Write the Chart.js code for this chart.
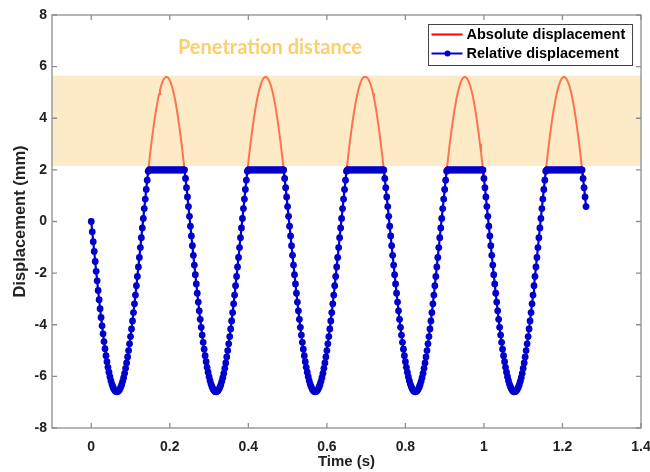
<!DOCTYPE html>
<html><head><meta charset="utf-8">
<script src="https://cdn.jsdelivr.net/npm/chart.js@4.4.0/dist/chart.umd.min.js"></script>
<style>html,body{margin:0;padding:0;background:#fff}#wrap{width:650px;height:472px}</style>
</head><body><div id="wrap"><canvas id="c" width="650" height="472"></canvas></div>
<script>
const _ = null;
const timeStep = 0.0025; // s between samples
const seriesNames = ['Absolute displacement', 'Relative displacement'];
const xRange = [-0.1, 1.4];
const yRange = [-8, 8];
const xTicks = [0, 0.2, 0.4, 0.6, 0.8, 1, 1.2, 1.4];
const xTickLabels = ['0', '0.2', '0.4', '0.6', '0.8', '1', '1.2', '1.4'];
const yTicks = [-8, -6, -4, -2, 0, 2, 4, 6, 8];
const yTickLabels = ['-8', '-6', '-4', '-2', '0', '2', '4', '6', '8'];
const penetrationBand = [2.15, 5.65];
const bandLabel = 'Penetration distance';
const bandLabelAt = [0.455, 6.72];
const xTitle = 'Time (s)';
const yTitle = 'Displacement (mm)';

const relDisp = [
// cycle 1
0.00,-0.40,-0.78,-1.16,-1.55,-1.93,-2.30,-2.67,-3.03,-3.38,-3.72,-4.04,-4.35,-4.65,-4.93,-5.20,-5.43,-5.65,-5.84,-6.01,-6.17,-6.30,-6.40,-6.49,-6.55,-6.59,-6.60,
-6.59,-6.56,-6.50,-6.42,-6.32,-6.19,-6.05,-5.88,-5.69,-5.48,-5.25,-5.00,-4.74,-4.46,-4.16,-3.85,-3.53,-3.19,-2.85,-2.49,-2.13,-1.76,-1.39,-1.01,-0.63,-0.25,0.12,0.50,0.87,1.24,1.60,1.95,
2,2,2,2,2,2,2,2,2,2, 2,2,2,2,2,2,2,2,2,2, 2,2,2,2,2,2,2,2,2,2, 2,2,2,2,2,2,2,
1.67,1.31,0.95,0.58,0.20,
// cycle 2
-0.18,-0.56,-0.94,-1.31,-1.69,-2.06,-2.42,-2.78,-3.12,-3.46,-3.79,-4.10,-4.40,-4.68,-4.95,-5.20,-5.43,-5.65,-5.84,-6.01,-6.17,-6.30,-6.40,-6.49,-6.55,-6.59,-6.60,
-6.59,-6.56,-6.50,-6.42,-6.32,-6.19,-6.05,-5.88,-5.69,-5.48,-5.25,-5.00,-4.74,-4.46,-4.16,-3.85,-3.53,-3.19,-2.85,-2.49,-2.13,-1.76,-1.39,-1.01,-0.63,-0.25,0.12,0.50,0.87,1.24,1.60,1.95,
2,2,2,2,2,2,2,2,2,2, 2,2,2,2,2,2,2,2,2,2, 2,2,2,2,2,2,2,2,2,2, 2,2,2,2,2,2,2,
1.67,1.31,0.95,0.58,0.20,
// cycle 3
-0.18,-0.56,-0.94,-1.31,-1.69,-2.06,-2.42,-2.78,-3.12,-3.46,-3.79,-4.10,-4.40,-4.68,-4.95,-5.20,-5.43,-5.65,-5.84,-6.01,-6.17,-6.30,-6.40,-6.49,-6.55,-6.59,-6.60,
-6.59,-6.56,-6.50,-6.42,-6.32,-6.19,-6.05,-5.88,-5.69,-5.48,-5.25,-5.00,-4.74,-4.46,-4.16,-3.85,-3.53,-3.19,-2.85,-2.49,-2.13,-1.76,-1.39,-1.01,-0.63,-0.25,0.12,0.50,0.87,1.24,1.60,1.95,
2,2,2,2,2,2,2,2,2,2, 2,2,2,2,2,2,2,2,2,2, 2,2,2,2,2,2,2,2,2,2, 2,2,2,2,2,2,2,2,
1.67,1.31,0.95,0.58,0.20,
// cycle 4
-0.18,-0.56,-0.94,-1.31,-1.69,-2.06,-2.42,-2.78,-3.12,-3.46,-3.79,-4.10,-4.40,-4.68,-4.95,-5.20,-5.43,-5.65,-5.84,-6.01,-6.17,-6.30,-6.40,-6.49,-6.55,-6.59,-6.60,
-6.59,-6.56,-6.50,-6.42,-6.32,-6.19,-6.05,-5.88,-5.69,-5.48,-5.25,-5.00,-4.74,-4.46,-4.16,-3.85,-3.53,-3.19,-2.85,-2.49,-2.13,-1.76,-1.39,-1.01,-0.63,-0.25,0.12,0.50,0.87,1.24,1.60,1.95,
2,2,2,2,2,2,2,2,2,2, 2,2,2,2,2,2,2,2,2,2, 2,2,2,2,2,2,2,2,2,2, 2,2,2,2,2,2,2,
1.67,1.31,0.95,0.58,0.20,
// cycle 5
-0.18,-0.56,-0.94,-1.31,-1.69,-2.06,-2.42,-2.78,-3.12,-3.46,-3.79,-4.10,-4.40,-4.68,-4.95,-5.20,-5.43,-5.65,-5.84,-6.01,-6.17,-6.30,-6.40,-6.49,-6.55,-6.59,-6.60,
-6.59,-6.56,-6.50,-6.42,-6.32,-6.19,-6.05,-5.88,-5.69,-5.48,-5.25,-5.00,-4.74,-4.46,-4.16,-3.85,-3.53,-3.19,-2.85,-2.49,-2.13,-1.76,-1.39,-1.01,-0.63,-0.25,0.12,0.50,0.87,1.24,1.60,1.95,
2,2,2,2,2,2,2,2,2,2, 2,2,2,2,2,2,2,2,2,2, 2,2,2,2,2,2,2,2,2,2, 2,2,2,2,2,2,2,
1.67,1.31,0.95,0.58
];

const absDisp = [
// cycle 1
_,_,_,_,_,_,_,_,_,_, _,_,_,_,_,_,_,_,_,_, _,_,_,_,_,_,_,_,_,_, _,_,_,_,_,_,_,_,_,_, _,_,_,_,_,_,_,_,_,_, _,_,_,_,_,_,_,_,
1.95,2.29,2.63,2.95,3.25,3.54,3.82,4.08,4.32,4.54,4.75,4.93,5.09,5.23,5.35,5.45,5.52,5.57,5.60,5.60,5.58,5.53,5.46,5.37,5.26,5.12,4.97,4.79,4.59,4.37,4.13,3.87,3.60,3.31,3.01,2.69,2.36,2.02,1.67,
_,_,_,_,
// cycle 2
_,_,_,_,_,_,_,_,_,_, _,_,_,_,_,_,_,_,_,_, _,_,_,_,_,_,_,_,_,_, _,_,_,_,_,_,_,_,_,_, _,_,_,_,_,_,_,_,_,_, _,_,_,_,_,_,_,_,
1.95,2.29,2.63,2.95,3.25,3.54,3.82,4.08,4.32,4.54,4.75,4.93,5.09,5.23,5.35,5.45,5.52,5.57,5.60,5.60,5.58,5.53,5.46,5.37,5.26,5.12,4.97,4.79,4.59,4.37,4.13,3.87,3.60,3.31,3.01,2.69,2.36,2.02,1.67,
_,_,_,_,
// cycle 3
_,_,_,_,_,_,_,_,_,_, _,_,_,_,_,_,_,_,_,_, _,_,_,_,_,_,_,_,_,_, _,_,_,_,_,_,_,_,_,_, _,_,_,_,_,_,_,_,_,_, _,_,_,_,_,_,_,_,
1.95,2.29,2.63,2.95,3.25,3.54,3.82,4.08,4.32,4.54,4.75,4.93,5.09,5.23,5.35,5.45,5.52,5.57,5.60,5.60,5.60,5.58,5.53,5.46,5.37,5.26,5.12,4.97,4.79,4.59,4.37,4.13,3.87,3.60,3.31,3.01,2.69,2.36,2.02,1.67,
_,_,_,_,
// cycle 4
_,_,_,_,_,_,_,_,_,_, _,_,_,_,_,_,_,_,_,_, _,_,_,_,_,_,_,_,_,_, _,_,_,_,_,_,_,_,_,_, _,_,_,_,_,_,_,_,_,_, _,_,_,_,_,_,_,_,
1.95,2.29,2.63,2.95,3.25,3.54,3.82,4.08,4.32,4.54,4.75,4.93,5.09,5.23,5.35,5.45,5.52,5.57,5.60,5.60,5.58,5.53,5.46,5.37,5.26,5.12,4.97,4.79,4.59,4.37,4.13,3.87,3.60,3.31,3.01,2.69,2.36,2.02,1.67,
_,_,_,_,
// cycle 5
_,_,_,_,_,_,_,_,_,_, _,_,_,_,_,_,_,_,_,_, _,_,_,_,_,_,_,_,_,_, _,_,_,_,_,_,_,_,_,_, _,_,_,_,_,_,_,_,_,_, _,_,_,_,_,_,_,_,
1.95,2.29,2.63,2.95,3.25,3.54,3.82,4.08,4.32,4.54,4.75,4.93,5.09,5.23,5.35,5.45,5.52,5.57,5.60,5.60,5.58,5.53,5.46,5.37,5.26,5.12,4.97,4.79,4.59,4.37,4.13,3.87,3.60,3.31,3.01,2.69,2.36,2.02,1.67,
_,_,_
];

const FONT = '"Liberation Sans", Arial, Helvetica, sans-serif';
const relPoints = relDisp.map((v, i) => ({ x: +(i * timeStep).toFixed(4), y: v }));
const absPoints = absDisp.map((v, i) => ({ x: +(i * timeStep).toFixed(4), y: v }));

const AXIS_COLOR = '#8e8e8e';
const BLUE = '#0000cc';
const RED = '#ff0000';

const decor = {
  id: 'decor',
  afterDatasetDraw(chart, args) {
    if (chart.data.datasets[args.index].label !== seriesNames[0]) return;
    const { ctx, chartArea: a, scales: { y } } = chart;
    const yt = y.getPixelForValue(penetrationBand[1]);
    const yb = y.getPixelForValue(penetrationBand[0]);
    ctx.save();
    ctx.fillStyle = 'rgba(251,217,151,0.53)';
    ctx.fillRect(a.left, yt, a.right - a.left, yb - yt);
    ctx.restore();
  },
  afterDraw(chart) {
    const { ctx, chartArea: a, scales: { x, y } } = chart;
    ctx.save();
    // band label
    ctx.fillStyle = 'rgb(252,206,108)';
    ctx.font = 'bold 20px Lato, "Open Sans", sans-serif';
    ctx.textAlign = 'center';
    ctx.textBaseline = 'middle';
    ctx.fillText(bandLabel, x.getPixelForValue(bandLabelAt[0]), y.getPixelForValue(bandLabelAt[1]));
    // box
    ctx.strokeStyle = AXIS_COLOR;
    ctx.lineWidth = 1.3;
    ctx.strokeRect(a.left, a.top, a.right - a.left, a.bottom - a.top);
    // inner ticks
    const tl = 5;
    ctx.beginPath();
    xTicks.forEach(v => {
      const px = x.getPixelForValue(v);
      ctx.moveTo(px, a.bottom); ctx.lineTo(px, a.bottom - tl);
      ctx.moveTo(px, a.top); ctx.lineTo(px, a.top + tl);
    });
    yTicks.forEach(v => {
      const py = y.getPixelForValue(v);
      ctx.moveTo(a.left, py); ctx.lineTo(a.left + tl, py);
      ctx.moveTo(a.right, py); ctx.lineTo(a.right - tl, py);
    });
    ctx.stroke();
    // legend
    const bx = 428.5, by = 24.5, bw = 204, bh = 41;
    ctx.fillStyle = '#fff';
    ctx.fillRect(bx, by, bw, bh);
    ctx.strokeStyle = '#444';
    ctx.lineWidth = 1;
    ctx.strokeRect(bx, by, bw, bh);
    const rows = [by + 10, by + 29];
    ctx.lineWidth = 2;
    ctx.strokeStyle = RED;
    ctx.beginPath(); ctx.moveTo(bx + 3, rows[0]); ctx.lineTo(bx + 34, rows[0]); ctx.stroke();
    ctx.strokeStyle = BLUE;
    ctx.beginPath(); ctx.moveTo(bx + 3, rows[1]); ctx.lineTo(bx + 34, rows[1]); ctx.stroke();
    ctx.fillStyle = BLUE;
    ctx.beginPath(); ctx.arc(bx + 19, rows[1], 3, 0, Math.PI * 2); ctx.fill();
    ctx.fillStyle = '#000';
    ctx.font = 'bold 14.5px ' + FONT;
    ctx.textAlign = 'left';
    ctx.textBaseline = 'middle';
    ctx.fillText(seriesNames[0], bx + 38, rows[0] + 0.5);
    ctx.fillText(seriesNames[1], bx + 38, rows[1] + 0.5);
    ctx.restore();
  }
};

new Chart(document.getElementById('c'), {
  type: 'line',
  data: {
    datasets: [
      { label: seriesNames[0], data: absPoints, borderColor: RED, borderWidth: 2, pointRadius: 0,
        fill: false, tension: 0, spanGaps: false, order: 2 },
      { label: seriesNames[1], data: relPoints, borderColor: BLUE, borderWidth: 2.2,
        pointRadius: 3.4, pointBorderWidth: 0, pointBackgroundColor: BLUE, pointBorderColor: BLUE,
        fill: false, tension: 0, order: 1 }
    ]
  },
  options: {
    responsive: false,
    animation: false,
    devicePixelRatio: 1,
    layout: { padding: { top: 15, right: 9, left: 0, bottom: 0 } },
    plugins: { legend: { display: false }, tooltip: { enabled: false } },
    scales: {
      x: {
        type: 'linear', min: xRange[0], max: xRange[1],
        afterBuildTicks: s => { s.ticks = xTicks.map(v => ({ value: v })); },
        afterFit: s => { s.height = 44; s.paddingLeft = 0; s.paddingRight = 0; },
        grid: { display: false, drawTicks: false },
        border: { display: false },
        ticks: { autoSkip: false, maxRotation: 0, padding: 11, color: '#222',
          font: { family: FONT, size: 14, weight: 'bold' },
          callback: (v, i) => xTickLabels[i] },
        title: { display: true, text: xTitle, color: '#222',
          font: { family: FONT, size: 15, weight: 'bold' }, padding: { top: 0, bottom: 1 } }
      },
      y: {
        type: 'linear', min: yRange[0], max: yRange[1],
        afterBuildTicks: s => { s.ticks = yTicks.map(v => ({ value: v })); },
        afterFit: s => { s.width = 52; s.paddingTop = 0; s.paddingBottom = 0; },
        grid: { display: false, drawTicks: false },
        border: { display: false },
        ticks: { autoSkip: false, padding: 5, color: '#222',
          font: { family: FONT, size: 14, weight: 'bold' },
          callback: (v, i) => yTickLabels[i] },
        title: { display: true, text: yTitle, color: '#222',
          font: { family: FONT, size: 16.5, weight: 'bold' }, padding: { top: 11, bottom: 0 } }
      }
    }
  },
  plugins: [decor]
});
</script>
</body></html>
